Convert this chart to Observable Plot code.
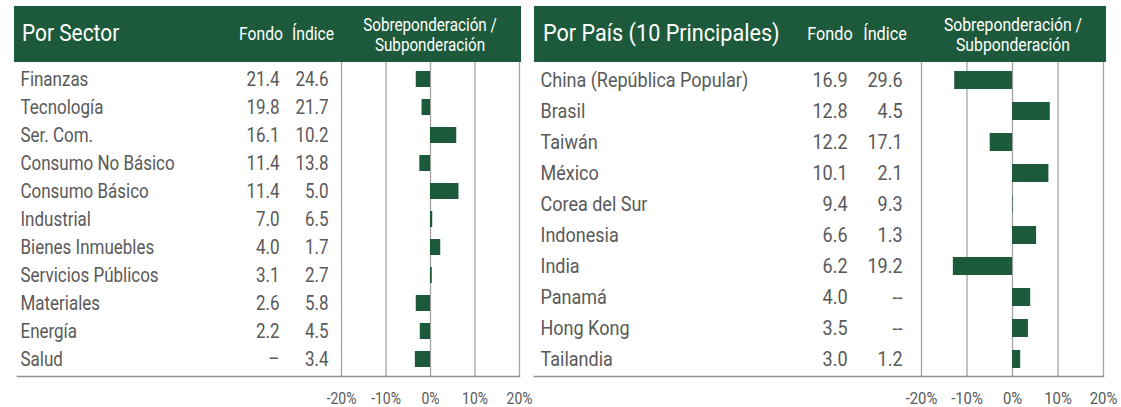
<!DOCTYPE html>
<html><head><meta charset="utf-8">
<script src="https://cdn.jsdelivr.net/npm/d3@7"></script>
<script src="https://cdn.jsdelivr.net/npm/@observablehq/plot@0.6"></script>
<style>
body{margin:0;background:#fff;font-family:Roboto,"Liberation Sans",sans-serif;}
#wrap{position:relative;width:1121px;height:407px;overflow:hidden;}
.hdr{position:absolute;top:6px;height:56px;background:#1d5a3c;}
.t{position:absolute;color:#fff;white-space:nowrap;line-height:1;transform-origin:50% 50%;}
.tl{position:absolute;color:#fff;white-space:nowrap;line-height:1;transform-origin:0 50%;}
.sub{text-align:center;line-height:20px;}
.plot{position:absolute;top:62px;overflow:visible;}
</style></head>
<body><div id="wrap"></div>
<script>
// ---- data ----
const sectors = ["Finanzas","Tecnología","Ser. Com.","Consumo No Básico","Consumo Básico","Industrial","Bienes Inmuebles","Servicios Públicos","Materiales","Energía","Salud"];
const sectorFondo = [21.4,19.8,16.1,11.4,11.4,7.0,4.0,3.1,2.6,2.2,null];
const sectorIndice = [24.6,21.7,10.2,13.8,5.0,6.5,1.7,2.7,5.8,4.5,3.4];
const sectorActive = [-3.2,-1.9,5.9,-2.4,6.4,0.5,2.3,0.4,-3.2,-2.3,-3.4];

const countries = ["China (República Popular)","Brasil","Taiwán","México","Corea del Sur","Indonesia","India","Panamá","Hong Kong","Tailandia"];
const countryFondo = [16.9,12.8,12.2,10.1,9.4,6.6,6.2,4.0,3.5,3.0];
const countryIndice = [29.6,4.5,17.1,2.1,9.3,1.3,19.2,null,null,1.2];
const countryActive = [-12.7,8.3,-4.9,8.0,0.1,5.3,-13.0,4.0,3.5,1.8];

const xTicks = [-20,-10,0,10,20];
const headers = {left:"Por Sector", right:"Por País (10 Principales)", fondo:"Fondo", indice:"Índice", active:["Sobreponderación /","Subponderación"]};

const GREEN = "#1d5a3c", GREY = "#595959";
const wrap = document.getElementById("wrap");

function el(cls, html, x, y, size, sx, centered){
  const d = document.createElement("div");
  d.className = cls; d.innerHTML = html;
  d.style.left = x+"px"; d.style.top = y+"px";
  d.style.fontSize = size+"px";
  d.style.transform = (centered ? "translate(-50%,-50%)" : "translate(0,-50%)") + ` scaleX(${sx})`;
  wrap.appendChild(d); return d;
}

function condense(svg, f){
  svg.querySelectorAll("text").forEach(t=>{
    const L = t.getComputedTextLength();
    if (L > 0){ t.setAttribute("textLength", (L*f).toFixed(2)); t.setAttribute("lengthAdjust","spacingAndGlyphs"); }
  });
}

function panel(o){
  const h = document.createElement("div");
  h.className = "hdr"; h.style.left = o.hx+"px"; h.style.width = o.hw+"px";
  wrap.appendChild(h);
  el("tl",o.title,o.titleX,33,o.titleSize,o.f,false);
  el("t",headers.fondo,o.fondoHX,34,o.hSize,o.f,true);
  el("t",headers.indice,o.indiceHX,34,o.hSize,o.f,true);
  el("t sub",headers.active.join("<br>"),o.subX,35,o.subSize,o.f,true);

  const rows = o.names.map((n,i)=>({name:n, fondo:o.fondo[i], indice:o.indice[i], active:o.active[i]}));
  const fmt = v => v==null ? o.dash : v.toFixed(1);
  const chart = Plot.plot({
    width:o.w, height:345,
    marginTop:0, marginBottom:31, marginLeft:o.ml, marginRight:o.mr,
    style:{fontFamily:"Roboto, sans-serif", color:GREY, background:"transparent", overflow:"visible"},
    x:{domain:[-20,20], range:o.xr},
    y:{domain:o.names, paddingInner:o.pin, paddingOuter:o.pin/2, axis:null},
    marks:[
      Plot.ruleX(xTicks,{stroke:"#a3a3a3", strokeWidth:1.3}),
      Plot.frame({anchor:"bottom", stroke:"#8f8f8f", strokeWidth:1.6}),
      Plot.barX(rows,{x:"active", y:"name", fill:GREEN}),
      Plot.text(rows,{y:"name", text:"name", frameAnchor:"left", dx:o.dxName, textAnchor:"start", fill:GREY, fontSize:o.fs}),
      Plot.text(rows,{y:"name", text:d=>fmt(d.fondo), frameAnchor:"left", dx:o.dxFondo, textAnchor:"end", fill:GREY, fontSize:o.fs}),
      Plot.text(rows,{y:"name", text:d=>fmt(d.indice), frameAnchor:"left", dx:o.dxIndice, textAnchor:"end", fill:GREY, fontSize:o.fs}),
      Plot.axisX({ticks:xTicks, tickFormat:d=>`${d}%`, tickSize:0, tickPadding:16, fontSize:o.axSize, label:null, fill:GREY})
    ]
  });
  chart.classList.add("plot");
  chart.style.left = o.left+"px";
  wrap.appendChild(chart);
  condense(chart, o.f);
}

panel({
  left:0, w:530, ml:17, mr:11, xr:[341,519], f:0.87,
  hx:14, hw:507, title:headers.left, titleX:22, titleSize:24,
  fondoHX:261, indiceHX:313, hSize:18, subX:430, subSize:17.5,
  names:sectors, fondo:sectorFondo, indice:sectorIndice, active:sectorActive, dash:"–",
  pin:0.44, fs:19.5, dxName:3, dxFondo:262, dxIndice:311, axSize:16
});
panel({
  left:530, w:591, ml:4, mr:18, xr:[391,573], f:0.9,
  hx:534, hw:572, title:headers.right, titleX:543, titleSize:24,
  fondoHX:830, indiceHX:885, hSize:18, subX:1013, subSize:17.5,
  names:countries, fondo:countryFondo, indice:countryIndice, active:countryActive, dash:"--",
  pin:0.43, fs:20, dxName:6, dxFondo:313, dxIndice:368, axSize:16.5
});
</script></body></html>
